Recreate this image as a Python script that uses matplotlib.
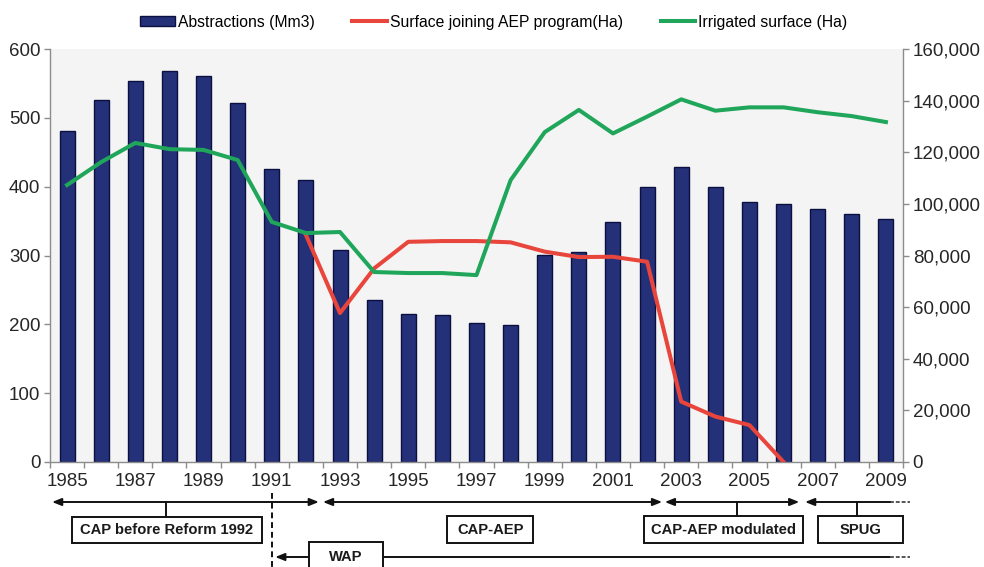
import matplotlib
matplotlib.use("Agg")
import matplotlib.pyplot as plt
from matplotlib.patches import Rectangle
from matplotlib.lines import Line2D
from matplotlib.ticker import FuncFormatter, MultipleLocator
import matplotlib.transforms as mtransforms
import numpy as np

plt.rcParams['font.family'] = ['Liberation Sans', 'DejaVu Sans']

years = list(range(1985, 2010))
abstractions = [481, 526, 554, 568, 561, 522, 426, 410, 308, 235, 215, 213, 202,
                199, 301, 305, 349, 399, 428, 399, 377, 375, 367, 361, 353]
irrigated = [107300, 116200, 123600, 121200, 120900, 117000, 93000, 88700, 89100,
             73600, 73200, 73200, 72400, 109200, 127800, 136400, 127300, 133800,
             140500, 136100, 137400, 137400, 135500, 134000, 131700]
aep_surface = [None, None, None, None, None, None, None, 88000, 57700, 75000,
               85300, 85600, 85600, 85100, 81500, 79400, 79500, 77600, 23400,
               17600, 14300, 0, None, None, None]

NAVY = '#243178'
RED = '#e8463c'
GREEN = '#1fa65a'
GREY = '#8c8c8c'
TXT = '#262626'


def main():
    fig = plt.figure(figsize=(9.84, 5.67), dpi=100)
    ax = fig.add_axes([50 / 984, 105 / 567, 853 / 984, 413 / 567])
    ax.set_facecolor('#f4f4f4')

    x = np.arange(len(years))
    ax.bar(x, abstractions, width=0.44, color=NAVY, edgecolor='#0b1040',
           linewidth=1.0, label='Abstractions (Mm3)', zorder=2)
    ax.set_xlim(-0.5, len(years) - 0.5)
    ax.set_ylim(0, 600)
    ax.yaxis.set_major_locator(MultipleLocator(100))

    ax2 = ax.twinx()
    aep = np.array([np.nan if v is None else v for v in aep_surface], dtype=float)
    ax2.plot(x, aep, color=RED, linewidth=2.9, solid_joinstyle='round',
             label='Surface joining AEP program(Ha)')
    ax2.plot(x, irrigated, color=GREEN, linewidth=2.9, solid_joinstyle='round',
             label='Irrigated surface (Ha)')
    ax2.set_ylim(0, 160000)
    ax2.yaxis.set_major_locator(MultipleLocator(20000))
    ax2.yaxis.set_major_formatter(FuncFormatter(lambda v, p: f"{int(v):,}"))

    # axes styling
    for a in (ax, ax2):
        a.spines['top'].set_visible(False)
        for s in ('left', 'right', 'bottom'):
            a.spines[s].set_color(GREY)
            a.spines[s].set_linewidth(1.0)
    ax.spines['right'].set_visible(False)
    ax2.spines['left'].set_visible(False)
    ax2.spines['bottom'].set_visible(False)

    ax.tick_params(axis='y', length=4, width=1, color=GREY, pad=3,
                   labelsize=13.5, labelcolor=TXT)
    ax2.tick_params(axis='y', length=4, width=1, color=GREY, pad=3,
                    labelsize=13.5, labelcolor=TXT)

    ax.set_xticks(x[::2])
    ax.set_xticklabels([str(y) for y in years[::2]])
    ax.set_xticks(np.arange(-0.5, len(years)), minor=True)
    ax.tick_params(axis='x', which='major', length=0, pad=8,
                   labelsize=13.5, labelcolor=TXT)
    ax.tick_params(axis='x', which='minor', length=4, width=1, color=GREY)

    # legend
    handles = [Rectangle((0, 0), 1, 1, facecolor=NAVY, edgecolor='#0b1040'),
               Line2D([], [], color=RED, linewidth=2.9),
               Line2D([], [], color=GREEN, linewidth=2.9)]
    labels = ['Abstractions (Mm3)', 'Surface joining AEP program(Ha)',
              'Irrigated surface (Ha)']
    fig.legend(handles, labels, loc='center', bbox_to_anchor=(0.502, 0.961),
               ncol=3, frameon=False, fontsize=11.3, handlelength=2.2,
               handleheight=0.6, handletextpad=0.2, columnspacing=2.4)

    # policy periods under the axis (x in category units, y in figure pixels)
    trans = mtransforms.blended_transform_factory(ax.transData, fig.transFigure)

    def fy(py):
        return 1 - py / 567

    def arrow(x0, x1, py, style):
        ax.annotate('', xy=(x1, fy(py)), xytext=(x0, fy(py)),
                    xycoords=trans, textcoords=trans,
                    arrowprops=dict(arrowstyle=style, color='#111111', lw=1.4,
                                    shrinkA=0, shrinkB=0),
                    annotation_clip=False)

    def line(xs, ys, **kw):
        ax.add_line(Line2D(xs, [fy(v) for v in ys], transform=trans,
                           clip_on=False, **kw))

    def box(x0, x1, py0, py1, text):
        ax.add_patch(Rectangle((x0, fy(py1)), x1 - x0, fy(py0) - fy(py1),
                               transform=trans, clip_on=False, facecolor='white',
                               edgecolor='#111111', linewidth=1.4, zorder=3))
        ax.text((x0 + x1) / 2, fy((py0 + py1) / 2), text, transform=trans,
                ha='center', va='center', fontsize=10.6, fontweight='bold',
                color='#1a1a1a', zorder=4, clip_on=False)

    head = '<|-|>,head_length=0.55,head_width=0.22'
    arrow(-0.44, 7.38, 502, head)
    arrow(7.5, 17.44, 502, head)
    arrow(17.52, 21.46, 502, head)
    arrow(24.12, 21.63, 502, '-|>,head_length=0.55,head_width=0.22')
    line([24.12, 24.7], [502, 502], color='#555555', lw=1.4, linestyle=(0, (2, 1)))

    line([2.9, 2.9], [502, 517], color='#111111', lw=1.4)
    line([19.63, 19.63], [502, 516], color='#111111', lw=1.4)
    line([23.15, 23.15], [502, 516], color='#111111', lw=1.4)

    box(0.15, 5.71, 517, 543, 'CAP before Reform 1992')
    box(11.14, 13.66, 516, 543, 'CAP-AEP')
    box(16.91, 21.57, 516, 543, 'CAP-AEP modulated')
    box(22.01, 24.5, 516, 543, 'SPUG')

    # WAP
    line([6.0, 6.0], [493, 567], color='#111111', lw=1.4, linestyle=(0, (3, 2)))
    arrow(8.0, 6.1, 557, '-|>,head_length=0.55,head_width=0.22')
    line([9.0, 24.12], [557, 557], color='#111111', lw=1.4)
    line([24.12, 24.7], [557, 557], color='#555555', lw=1.4, linestyle=(0, (2, 1)))
    box(7.09, 9.26, 542, 572, 'WAP')
    for t in ax.texts:
        if t.get_text() == 'WAP':
            t.set_position((8.17, fy(557)))

    fig.savefig('out.png', dpi=100)


if __name__ == "__main__":
    main()
